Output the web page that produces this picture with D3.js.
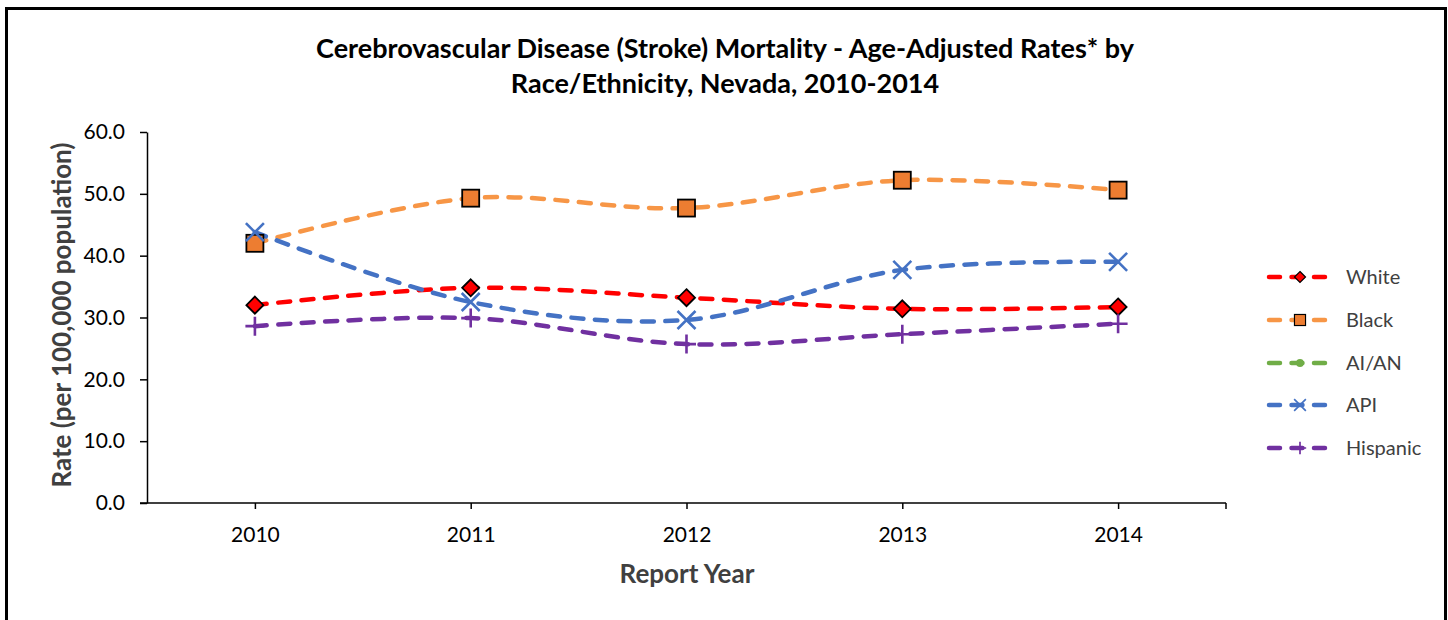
<!DOCTYPE html>
<html><head><meta charset="utf-8">
<script src="https://cdn.jsdelivr.net/npm/d3@7"></script>
<style>
html,body{margin:0;padding:0;background:#fff;}
svg{display:block;}
text{font-family:Lato,"Open Sans",sans-serif;}
</style></head>
<body>
<svg id="c" width="1448" height="620"></svg>
<script>
const years = ["2010","2011","2012","2013","2014"];
const yTicks = [0,10,20,30,40,50,60];
const seriesNames = ["White","Black","AI/AN","API","Hispanic"];
const white = [32.0,34.8,33.2,31.4,31.7];
const black = [42.0,49.3,47.7,52.2,50.6];
const aian = [null,null,null,null,null];
const api = [43.8,32.5,29.6,37.7,39.0];
const hispanic = [28.6,29.9,25.7,27.3,29.0];

const svg = d3.select("#c");
svg.append("rect").attr("x",6.5).attr("y",8.5).attr("width",1439).attr("height",640)
  .attr("fill","#fff").attr("stroke","#000").attr("stroke-width",3);

const x = d3.scalePoint().domain(years).range([147,1226]).padding(0.5);
const y = d3.scaleLinear().domain([0,60]).range([503,132]);

// title
const title = svg.append("text").attr("text-anchor","middle").attr("font-weight","bold")
  .attr("font-size",27).attr("fill","#000");
title.append("tspan").attr("x",725).attr("y",58).text("Cerebrovascular Disease (Stroke) Mortality - Age-Adjusted Rates* by");
title.append("tspan").attr("x",725).attr("y",93).text("Race/Ethnicity, Nevada, 2010-2014");

// y axis
const ya = svg.append("g").attr("transform","translate(147,0)")
  .call(d3.axisLeft(y).tickValues(yTicks).tickFormat(d3.format(".1f")).tickSize(7).tickSizeOuter(0).tickPadding(15));
ya.select(".domain").attr("stroke","#000").attr("stroke-width",1.5);
ya.selectAll(".tick line").attr("stroke","#000").attr("stroke-width",1.5);
ya.selectAll(".tick text").attr("font-size",21).attr("fill","#000").attr("font-family","Lato,sans-serif");

// x axis
const xa = svg.append("g").attr("transform","translate(0,503)")
  .call(d3.axisBottom(x).tickSize(6).tickSizeOuter(0).tickPadding(18));
xa.select(".domain").remove();
xa.append("line").attr("x1",140).attr("x2",1226).attr("stroke","#000").attr("stroke-width",1.5);
xa.append("line").attr("x1",1226).attr("x2",1226).attr("y1",0).attr("y2",6).attr("stroke","#000").attr("stroke-width",1.5);
xa.selectAll(".tick line").attr("stroke","#000").attr("stroke-width",1.5);
xa.selectAll(".tick text").attr("font-size",21).attr("fill","#000").attr("font-family","Lato,sans-serif");

// axis titles
svg.append("text").attr("x",687).attr("y",583).attr("text-anchor","middle").attr("font-weight","bold")
  .attr("font-size",26).attr("fill","#404040").text("Report Year");
svg.append("text").attr("transform","translate(71,315) rotate(-90)").attr("text-anchor","middle")
  .attr("font-weight","bold").attr("font-size",26).attr("fill","#404040").text("Rate (per 100,000 population)");

const series = [
  {name:seriesNames[0], vals:white, line:"#FF0000", marker:"diamond", fill:"#FF0000"},
  {name:seriesNames[1], vals:black, line:"#F79646", marker:"square", fill:"#ED7D31"},
  {name:seriesNames[2], vals:aian, line:"#70AD47", marker:"circle", fill:"#70AD47"},
  {name:seriesNames[3], vals:api, line:"#4472C4", marker:"x", fill:"#4472C4"},
  {name:seriesNames[4], vals:hispanic, line:"#7030A0", marker:"plus", fill:"#7030A0"}
];

function drawMarker(g, s, cx, cy, k){
  if(s.marker==="diamond"){
    const r=8.5*k;
    g.append("path").attr("d",`M${cx},${cy-r}L${cx+r},${cy}L${cx},${cy+r}L${cx-r},${cy}Z`)
      .attr("fill",s.fill).attr("stroke","#000").attr("stroke-width",1.8*k);
  } else if(s.marker==="square"){
    const h=8.5*k;
    g.append("rect").attr("x",cx-h).attr("y",cy-h).attr("width",2*h).attr("height",2*h)
      .attr("fill",s.fill).attr("stroke","#000").attr("stroke-width",1.8*k);
  } else if(s.marker==="circle"){
    g.append("circle").attr("cx",cx).attr("cy",cy).attr("r",6*k).attr("fill",s.fill);
  } else if(s.marker==="x"){
    const h=9*k;
    g.append("path").attr("d",`M${cx-h},${cy-h}L${cx+h},${cy+h}M${cx-h},${cy+h}L${cx+h},${cy-h}`)
      .attr("stroke",s.fill).attr("stroke-width",2.6*k).attr("fill","none");
  } else if(s.marker==="plus"){
    const h=9.5*k;
    g.append("path").attr("d",`M${cx-h},${cy}L${cx+h},${cy}M${cx},${cy-h}L${cx},${cy+h}`)
      .attr("stroke",s.fill).attr("stroke-width",2.6*k).attr("fill","none");
  }
}

const line = d3.line().defined(d=>d[1]!=null).x(d=>x(d[0])).y(d=>y(d[1])).curve(d3.curveCatmullRom.alpha(0.5));
const plot = svg.append("g");
series.forEach(s=>{
  const pts = years.map((yr,i)=>[yr,s.vals[i]]);
  plot.append("path").datum(pts).attr("d",line).attr("fill","none").attr("stroke",s.line)
    .attr("stroke-width",4.5).attr("stroke-linecap","round").attr("stroke-dasharray","12,11.5");
});
series.forEach(s=>{
  const g = plot.append("g");
  years.forEach((yr,i)=>{ if(s.vals[i]!=null) drawMarker(g,s,x(yr),y(s.vals[i]),1); });
});

// legend
const lg = svg.append("g");
const legY = [277,320,363,405,448];
series.forEach((s,i)=>{
  const yy = legY[i];
  lg.append("line").attr("x1",1269).attr("x2",1331).attr("y1",yy).attr("y2",yy).attr("stroke",s.line)
    .attr("stroke-width",4.5).attr("stroke-linecap","round").attr("stroke-dasharray","11,11.5");
  drawMarker(lg,s,1300,yy,0.65);
  lg.append("text").attr("x",1346).attr("y",yy+7).attr("font-size",20).attr("fill","#404040").text(s.name);
});
</script>
</body></html>
